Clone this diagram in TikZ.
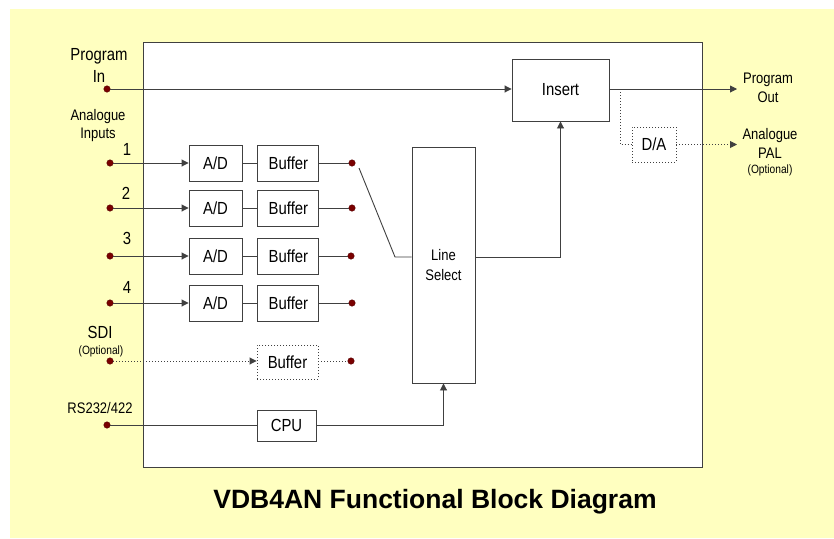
\documentclass[tikz,border=0pt]{standalone}
\usepackage{fontspec}
\setmainfont{Liberation Sans}[FakeStretch=0.85]
\newfontfamily\titlefont{Liberation Sans}
\usetikzlibrary{arrows.meta,positioning}
\definecolor{bgyellow}{HTML}{FFFFC0}
\definecolor{dotred}{HTML}{7A0000}
\definecolor{linegrey}{HTML}{404040}
\newcommand{\fsz}[2]{\fontsize{#1}{#2}\selectfont}

\begin{document}
\begin{tikzpicture}[x=1pt,y=-1pt,>={Triangle[length=7pt,width=7pt]},
  blk/.style={draw=linegrey,line width=0.9pt,fill=white,inner sep=0pt,font=\fsz{17.5}{20}},
  optblk/.style={blk,dash pattern=on 1pt off 2pt},
  term/.style={circle,fill=dotred,draw=dotred!70!black,inner sep=0pt,minimum size=6.5pt},
  lbl/.style={align=center,inner sep=0pt,font=\fsz{15.3}{18}},
  wire/.style={line width=0.9pt,draw=linegrey},
  optwire/.style={wire,dash pattern=on 1pt off 2pt}]
  \useasboundingbox (0,0) rectangle (834,538);
  \fill[bgyellow] (10,9) rectangle (834,538);
  \node[draw=linegrey,line width=0.9pt,fill=white,inner sep=0pt,anchor=north west,
    minimum width=559pt,minimum height=425pt] (unit) at (143,42) {};
  % program path
  \node[lbl,font=\fsz{17.5}{22}] (pinlbl) at (99,65) {Program\\In};
  \node[term] (pin) at (107,89) {};
  \node[blk,minimum width=97pt,minimum height=62pt] (ins) at (560.5,90) {Insert};
  \coordinate (pout) at (737,89);
  \coordinate (tap) at (620,89);
  \draw[wire,->] (pin) -- (pin -| ins.west);
  \draw[wire,->] (ins.east |- pout) -- (pout);
  \node[lbl,font=\fsz{15.3}{19}] (poutlbl) at (768,87.5) {Program\\Out};
  % optional D/A
  \node[optblk,minimum width=44pt,minimum height=35pt] (da) at (654,144.5) {D/A};
  \coordinate (palout) at (737,144.5);
  \draw[optwire] (tap) |- (da);
  \draw[optwire,->] (da) -- (palout);
  \node[lbl,font=\fsz{15.3}{19}] (pallbl) at (770,143.5) {Analogue\\PAL};
  \node[lbl,font=\fsz{12}{13}] (palopt) at (770,170) {(Optional)};
  % analogue inputs
  \node[lbl] (ainlbl) at (98,126) {Analogue\\Inputs};
  \node[lbl,font=\fsz{17.5}{17.5}] (n1) at (127,149) {1};
  \node[lbl,font=\fsz{17.5}{17.5}] (n2) at (126,193) {2};
  \node[lbl,font=\fsz{17.5}{17.5}] (n3) at (127,238) {3};
  \node[lbl,font=\fsz{17.5}{17.5}] (n4) at (127,287) {4};
  \node[term] (in1) at (110,163) {};
  \node[term] (in2) at (110,208) {};
  \node[term] (in3) at (110,256) {};
  \node[term] (in4) at (110,303) {};
  \node[blk,minimum width=53pt,minimum height=36pt] (ad1) at (215.5,163) {A/D};
  \node[blk,minimum width=53pt,minimum height=36pt] (ad2) at (215.5,208) {A/D};
  \node[blk,minimum width=53pt,minimum height=36pt] (ad3) at (215.5,256) {A/D};
  \node[blk,minimum width=53pt,minimum height=36pt] (ad4) at (215.5,303) {A/D};
  \node[blk,minimum width=61pt,minimum height=36pt,right=15pt of ad1] (buf1) {Buffer};
  \node[blk,minimum width=61pt,minimum height=36pt,right=15pt of ad2] (buf2) {Buffer};
  \node[blk,minimum width=61pt,minimum height=36pt,right=15pt of ad3] (buf3) {Buffer};
  \node[blk,minimum width=61pt,minimum height=36pt,right=15pt of ad4] (buf4) {Buffer};
  \node[term] (out1) at (352,163) {};
  \node[term] (out2) at (352,208) {};
  \node[term] (out3) at (351,256) {};
  \node[term] (out4) at (352,303) {};
  \draw[wire,->] (in1) -- (ad1);
  \draw[wire,->] (in2) -- (ad2);
  \draw[wire,->] (in3) -- (ad3);
  \draw[wire,->] (in4) -- (ad4);
  \draw[wire] (ad1) -- (buf1);
  \draw[wire] (ad2) -- (buf2);
  \draw[wire] (ad3) -- (buf3);
  \draw[wire] (ad4) -- (buf4);
  \draw[wire] (buf1) -- (out1);
  \draw[wire] (buf2) -- (out2);
  \draw[wire] (buf3) -- (out3);
  \draw[wire] (buf4) -- (out4);
  % optional SDI
  \node[lbl,font=\fsz{17.5}{17.5}] (sdilbl) at (100,332) {SDI};
  \node[lbl,font=\fsz{12}{13}] (sdiopt) at (101,351) {(Optional)};
  \node[term] (insdi) at (110,361) {};
  \node[optblk,minimum width=61pt,minimum height=34pt] (bufsdi) at (287.5,362) {Buffer};
  \node[term] (outsdi) at (351,361) {};
  \draw[optwire,->] (insdi) -- (bufsdi.west |- insdi);
  \draw[optwire] (bufsdi.east |- outsdi) -- (outsdi);
  % line select
  \node[blk,minimum width=63pt,minimum height=236pt,align=center,font=\fsz{15.3}{20}] (sel) at (443.5,265) {Line\\Select};
  \coordinate (swtip) at (359,168);
  \coordinate (swknee) at (395,257);
  \draw[wire] (swtip) -- (swknee) -- (swknee -| sel.west);
  \draw[wire,->] (sel.east |- swknee) -| (ins.south);
  % control
  \node[lbl] (rslbl) at (100,408) {RS232/422};
  \node[term] (rs) at (107,425) {};
  \node[blk,minimum width=59pt,minimum height=31pt] (cpu) at (286.5,425.5) {CPU};
  \draw[wire] (rs) -- (rs -| cpu.west);
  \draw[wire,->] (cpu.east |- rs) -| (sel.south);
  \node[font=\titlefont\bfseries\fsz{26.5}{30}] (title) at (435,502) {VDB4AN Functional Block Diagram};
\end{tikzpicture}
\end{document}
